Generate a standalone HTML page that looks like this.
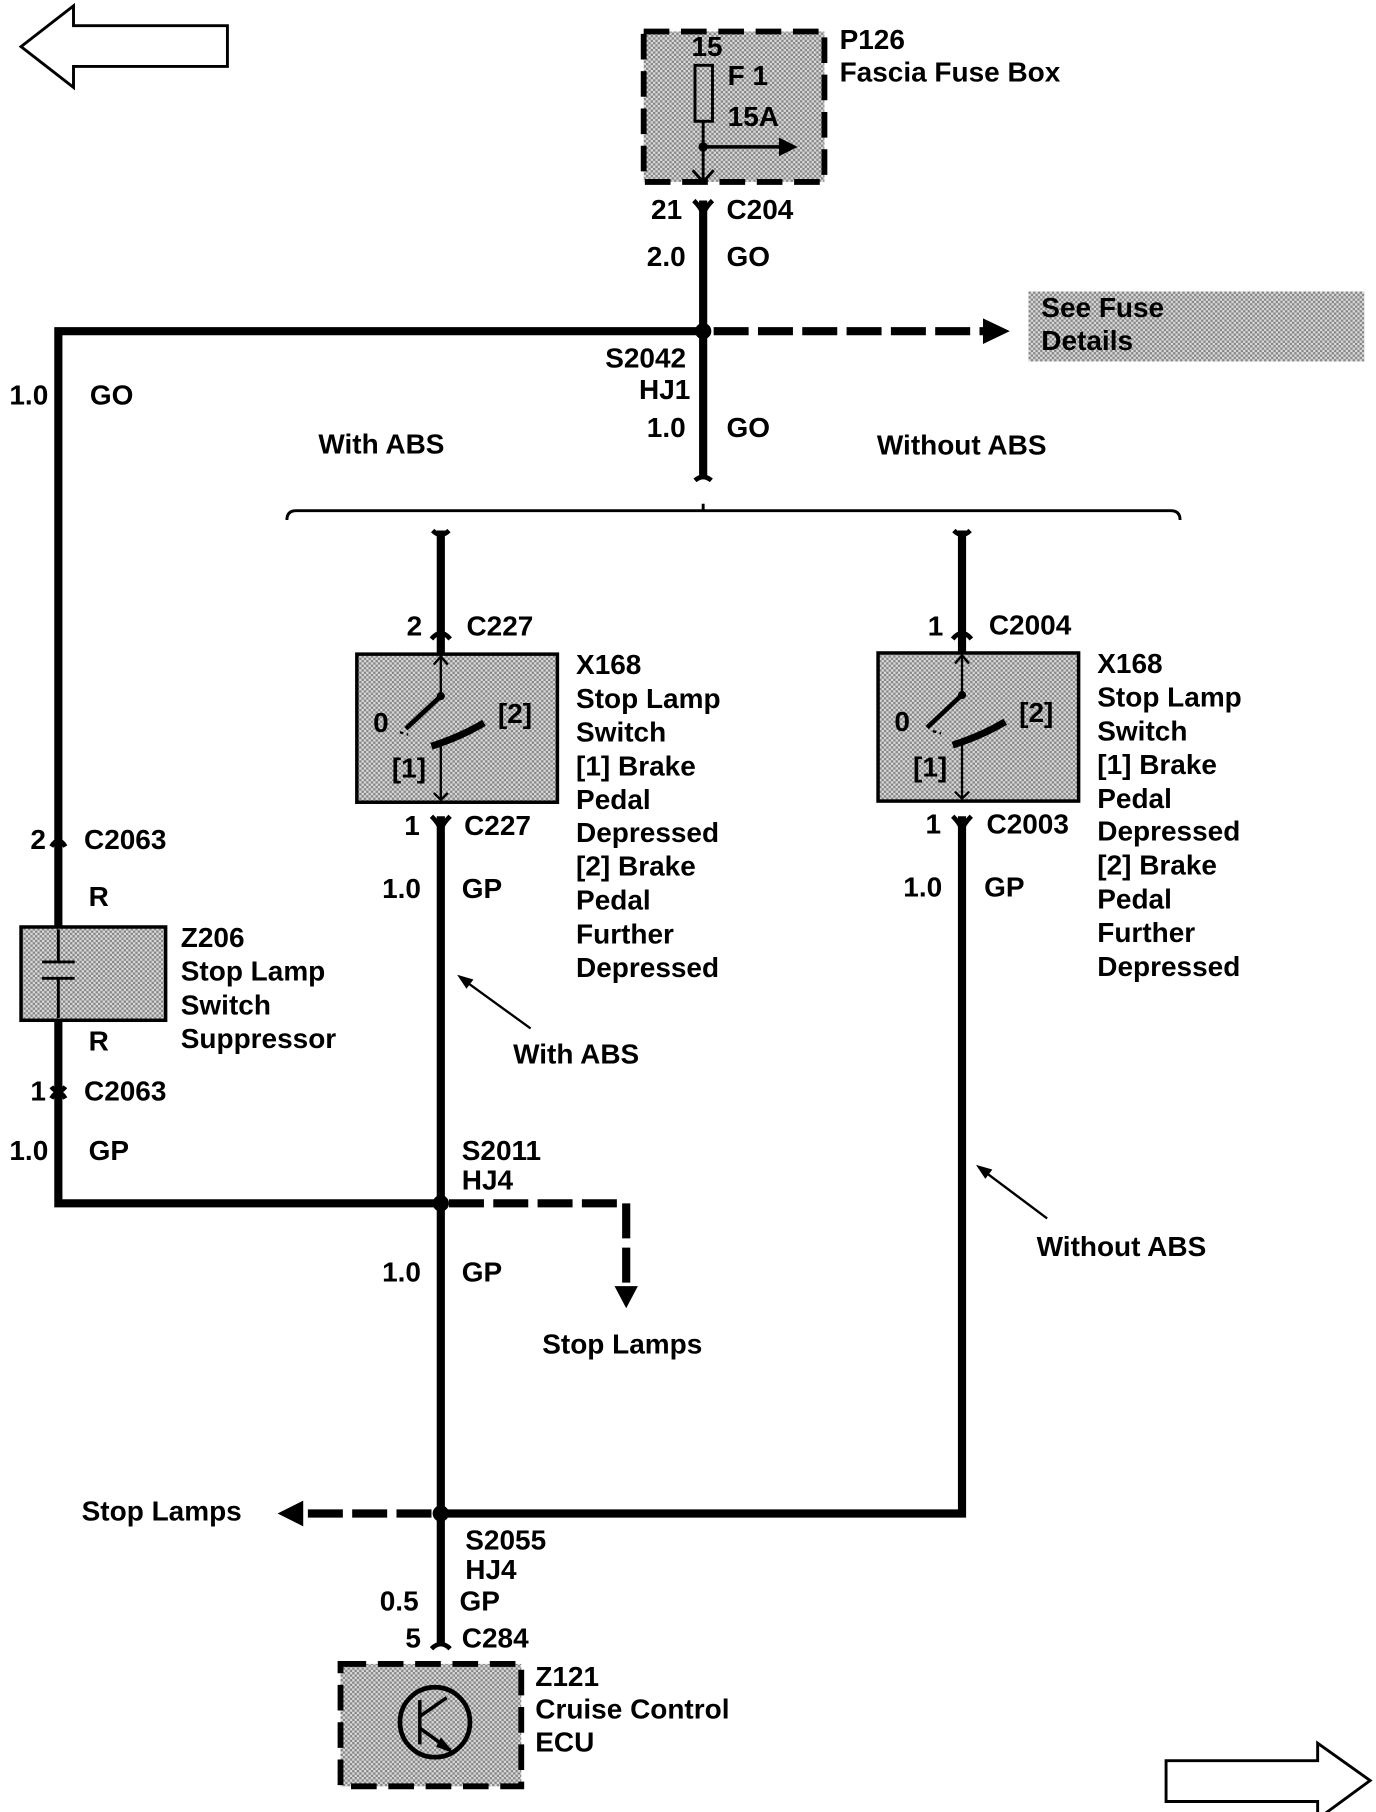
<!DOCTYPE html>
<html><head><meta charset="utf-8"><style>
html,body{margin:0;padding:0;background:#fff}
svg{display:block}
text{font-family:"Liberation Sans",Arial,sans-serif;font-weight:bold;font-size:24px;fill:#000}
</style></head><body>
<svg width="1376" height="1812" viewBox="0 0 1180 1554" xmlns="http://www.w3.org/2000/svg">
<defs>
<pattern id="g" width="4" height="4" patternUnits="userSpaceOnUse">
<rect width="4" height="4" fill="#d8d8d8"/><rect width="2" height="2" fill="#888"/><rect x="2" y="2" width="2" height="2" fill="#888"/>
</pattern>
</defs>
<g fill="none" stroke="#000">
<path d="M18 40 L63 5 L63 22 L195 22 L195 57 L63 57 L63 75 Z" stroke-width="2.5"/>
<path d="M1175 1527 L1130 1495 L1130 1510 L1000 1510 L1000 1545 L1130 1545 L1130 1560 Z" stroke-width="2.5"/>
</g>
<rect x="552" y="27" width="155" height="129" fill="url(#g)" stroke="#000" stroke-width="5" stroke-dasharray="22,10"/>
<rect x="596" y="56" width="15" height="48" fill="none" stroke="#000" stroke-width="2.5"/>
<line x1="603" y1="104" x2="603" y2="156" stroke="#000" stroke-width="2.5"/>
<path d="M594 146 L603 156 L612 146" fill="none" stroke="#000" stroke-width="2.5"/>
<circle cx="603" cy="126" r="4"/>
<line x1="603" y1="126" x2="670" y2="126" stroke="#000" stroke-width="3"/>
<path d="M668 118 L684 126 L668 134 Z"/>
<text x="593" y="48">15</text><text x="624" y="73">F 1</text><text x="624" y="108">15A</text>
<text x="720" y="42">P126</text><text x="720" y="70">Fascia Fuse Box</text>
<g stroke="#000" stroke-width="7" fill="none">
<line x1="603" y1="172" x2="603" y2="410"/>
<polyline points="603,284 50,284 50,1032 378,1032"/>
<line x1="378" y1="455" x2="378" y2="560"/>
<line x1="825" y1="455" x2="825" y2="560"/>
<line x1="378" y1="700" x2="378" y2="1410"/>
<polyline points="825,700 825,1298 378,1298"/>
</g>
<g stroke="#000" stroke-width="7" fill="none" stroke-dasharray="30,8">
<line x1="612" y1="284" x2="845" y2="284"/>
<polyline points="385,1032 537,1032 537,1105"/>
<line x1="370" y1="1298" x2="258" y2="1298"/>
</g>
<path d="M843 273 L866 284 L843 295 Z"/>
<path d="M527 1103 L537 1122 L547 1103 Z"/>
<path d="M260 1287 L238 1298 L260 1309 Z"/>
<circle cx="603" cy="284" r="7"/><circle cx="378" cy="1032" r="7"/><circle cx="378" cy="1298" r="7"/>
<g stroke="#000" stroke-width="4" fill="none">
<path d="M595 172 Q603 180 603 186 Q603 180 611 172"/>
<path d="M596 412 Q603 406 610 412"/>
<path d="M371 455 Q378 462 385 455"/>
<path d="M818 455 Q825 462 832 455"/>
<path d="M370 548 Q378 538 386 548"/>
<path d="M817 548 Q825 538 833 548"/>
<path d="M370 700 Q378 708 378 714 Q378 708 386 700"/>
<path d="M817 700 Q825 708 825 714 Q825 708 833 700"/>
<path d="M370 1414 Q378 1406 386 1414"/>
<path d="M44 726 Q50 716 56 726"/>
<path d="M44 932 Q50 940 56 932 M44 942 Q50 932 56 942"/>
<path d="M246 446 Q246 438 254 438 L1004 438 Q1012 438 1012 446" stroke-width="2.5"/>
<path d="M603 438 L603 432" stroke-width="2.5"/>
</g>
<text x="585" y="188" text-anchor="end">21</text><text x="623" y="188">C204</text>
<text x="588" y="228" text-anchor="end">2.0</text><text x="623" y="228">GO</text>
<rect x="882" y="250" width="288" height="60" fill="url(#g)"/>
<text x="893" y="272">See Fuse</text><text x="893" y="300">Details</text>
<text x="519" y="315">S2042</text><text x="548" y="342">HJ1</text>
<text x="588" y="375" text-anchor="end">1.0</text><text x="623" y="375">GO</text>
<text x="8" y="347">1.0</text><text x="77" y="347">GO</text>
<text x="273" y="389">With ABS</text><text x="752" y="390">Without ABS</text>
<text x="362" y="545" text-anchor="end">2</text><text x="400" y="545">C227</text>
<text x="809" y="545" text-anchor="end">1</text><text x="848" y="544">C2004</text>
<rect x="306" y="561" width="172" height="127" fill="url(#g)" stroke="#000" stroke-width="3"/>
<rect x="753" y="560" width="172" height="127" fill="url(#g)" stroke="#000" stroke-width="3"/>
<g stroke="#000" stroke-width="2" fill="none">
<line x1="378" y1="563" x2="378" y2="597"/><path d="M372 570 L378 563 L384 570"/>
<line x1="378" y1="640" x2="378" y2="686"/><path d="M372 680 L378 686 L384 680"/>
<line x1="825" y1="562" x2="825" y2="596"/><path d="M819 569 L825 562 L831 569"/>
<line x1="825" y1="639" x2="825" y2="685"/><path d="M819 679 L825 685 L831 679"/>
<path d="M343 628 L350 630 M800 627 L807 629" stroke-dasharray="3,3"/>
</g>
<g stroke="#000" stroke-width="4" fill="none">
<line x1="378" y1="597" x2="348" y2="625"/><path d="M370 640 Q395 632 415 620" stroke-width="6"/>
<line x1="825" y1="596" x2="795" y2="624"/><path d="M817 639 Q842 631 862 619" stroke-width="6"/>
</g>
<circle cx="378" cy="597" r="3.5"/><circle cx="825" cy="596" r="3.5"/>
<text x="320" y="628">0</text><text x="427" y="620">[2]</text><text x="336" y="667">[1]</text>
<text x="767" y="627">0</text><text x="874" y="619">[2]</text><text x="783" y="666">[1]</text>
<text x="494" y="578">X168</text><text x="494" y="607">Stop Lamp</text><text x="494" y="636">Switch</text>
<text x="494" y="665">[1]  Brake</text><text x="494" y="694">Pedal</text><text x="494" y="722">Depressed</text>
<text x="494" y="751">[2]  Brake</text><text x="494" y="780">Pedal</text><text x="494" y="809">Further</text><text x="494" y="838">Depressed</text>
<text x="941" y="577">X168</text><text x="941" y="606">Stop Lamp</text><text x="941" y="635">Switch</text>
<text x="941" y="664">[1]  Brake</text><text x="941" y="693">Pedal</text><text x="941" y="721">Depressed</text>
<text x="941" y="750">[2]  Brake</text><text x="941" y="779">Pedal</text><text x="941" y="808">Further</text><text x="941" y="837">Depressed</text>
<text x="360" y="716" text-anchor="end">1</text><text x="398" y="716">C227</text>
<text x="807" y="715" text-anchor="end">1</text><text x="846" y="715">C2003</text>
<text x="361" y="770" text-anchor="end">1.0</text><text x="396" y="770">GP</text>
<text x="808" y="769" text-anchor="end">1.0</text><text x="844" y="769">GP</text>
<text x="26" y="728">2</text><text x="72" y="728">C2063</text>
<text x="76" y="777">R</text>
<rect x="18" y="795" width="124" height="80" fill="url(#g)" stroke="#000" stroke-width="3"/>
<g stroke="#000" stroke-width="2.5"><line x1="50" y1="797" x2="50" y2="825"/><line x1="50" y1="839" x2="50" y2="873"/><line x1="36" y1="825" x2="64" y2="825"/><line x1="36" y1="839" x2="64" y2="839"/></g>
<text x="155" y="812">Z206</text><text x="155" y="841">Stop Lamp</text><text x="155" y="870">Switch</text><text x="155" y="899">Suppressor</text>
<text x="76" y="901">R</text>
<text x="26" y="944">1</text><text x="72" y="944">C2063</text>
<text x="8" y="995">1.0</text><text x="76" y="995">GP</text>
<g stroke="#000" stroke-width="2"><line x1="455" y1="882" x2="397" y2="840"/><line x1="898" y1="1045" x2="842" y2="1003"/></g>
<path d="M392 836 L406 840 L400 848 Z"/><path d="M837 999 L851 1003 L845 1011 Z"/>
<text x="440" y="912">With ABS</text>
<text x="889" y="1077">Without ABS</text>
<text x="396" y="995">S2011</text><text x="396" y="1020">HJ4</text>
<text x="361" y="1099" text-anchor="end">1.0</text><text x="396" y="1099">GP</text>
<text x="465" y="1161">Stop Lamps</text>
<text x="70" y="1304">Stop Lamps</text>
<text x="399" y="1329">S2055</text><text x="399" y="1354">HJ4</text>
<text x="359" y="1381" text-anchor="end">0.5</text><text x="394" y="1381">GP</text>
<text x="361" y="1413" text-anchor="end">5</text><text x="396" y="1413">C284</text>
<rect x="292" y="1427" width="155" height="105" fill="url(#g)" stroke="#000" stroke-width="5" stroke-dasharray="22,10"/>
<circle cx="373" cy="1477" r="30" fill="none" stroke="#000" stroke-width="4"/>
<g stroke="#000" stroke-width="3"><line x1="360" y1="1458" x2="360" y2="1496"/><line x1="360" y1="1472" x2="383" y2="1456"/><line x1="360" y1="1482" x2="386" y2="1501"/></g>
<path d="M378 1490 L390 1504 L374 1498 Z"/>
<text x="459" y="1446">Z121</text><text x="459" y="1474">Cruise Control</text><text x="459" y="1502">ECU</text>
</svg>
</body></html>
